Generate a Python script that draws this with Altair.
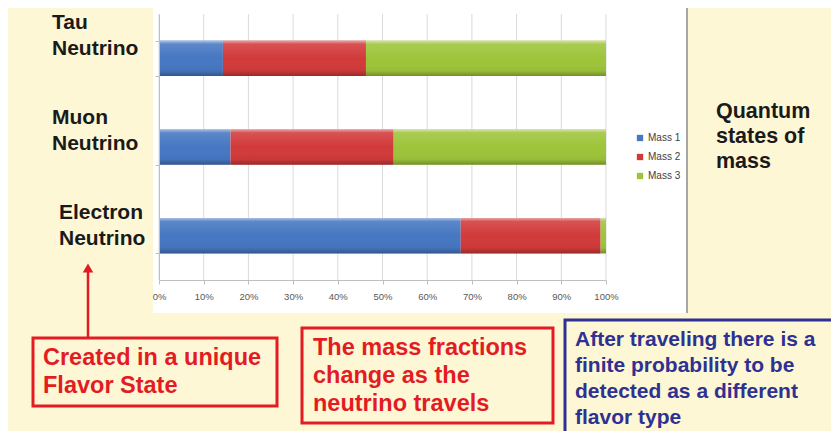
import altair as alt
import pandas as pd

# ---- data ----
neutrinos = ["Tau Neutrino", "Muon Neutrino", "Electron Neutrino"]
masses = ["Mass 1", "Mass 2", "Mass 3"]
mass1 = [0.143, 0.160, 0.675]
mass2 = [0.320, 0.365, 0.313]
mass3 = [0.537, 0.475, 0.012]
tick_values = [0, 0.1, 0.2, 0.3, 0.4, 0.5, 0.6, 0.7, 0.8, 0.9, 1.0]
side_title = ["Quantum", "states of", "mass"]
note1 = ["Created in a unique", "Flavor State"]
note2 = ["The mass fractions", "change as the", "neutrino travels"]
note3 = ["After traveling there is a", "finite probability to be",
         "detected as a different", "flavor type"]

mass_colors = ["#4677c2", "#d23a3a", "#9ec43a"]
RED = "#e31b23"
NAVY = "#2e3192"
CREAM = "#fdf7d5"
FONT = "Liberation Sans"

rows = []
for i, n in enumerate(neutrinos):
    for j, (m, vals) in enumerate(zip(masses, [mass1, mass2, mass3])):
        rows.append({"neutrino": n, "mass": m, "frac": vals[i], "order": j})
df = pd.DataFrame(rows)
one = pd.DataFrame({"k": [0]})

W, H = 447, 266
x_scale = alt.Scale(domain=[0, 1], nice=False)
x_axis = alt.Axis(format="%", values=tick_values, grid=False,
                  labelFont=FONT, labelFontSize=9.5, labelColor="#595959",
                  domainColor="#bfbfbf", tickColor="#bfbfbf", tickSize=4,
                  labelPadding=7, labelFlush=False, labelOverlap=False,
                  zindex=1)
y_enc = alt.Y("neutrino:N", sort=neutrinos, title=None,
              scale=alt.Scale(paddingInner=0.6, paddingOuter=0.3),
              axis=alt.Axis(labels=False, domainColor="#bfbfbf", tickColor="#bfbfbf",
                            tickBand="extent", tickSize=4, zindex=1))

panel = alt.Chart(one).mark_rect(color="white").encode(
    x=alt.value(-6), x2=alt.value(528), y=alt.value(-10), y2=alt.value(299))
panel_edge = alt.Chart(one).mark_rule(color="#a6a6a6", strokeWidth=2).encode(
    x=alt.value(528), y=alt.value(-10), y2=alt.value(299))

grid = alt.Chart(pd.DataFrame({"t": tick_values})).mark_rule(
    color="#d9d9d9", strokeWidth=1).encode(
    x=alt.X("t:Q", scale=x_scale, axis=x_axis, title=None),
    y=alt.value(0), y2=alt.value(H))

bars = alt.Chart(df).mark_bar(strokeWidth=0).encode(
    x=alt.X("frac:Q", stack="zero", scale=x_scale, title=None, axis=x_axis),
    y=y_enc,
    color=alt.Color("mass:N", scale=alt.Scale(domain=masses, range=mass_colors),
                    legend=alt.Legend(title=None, orient="none", legendX=476, legendY=119,
                                      symbolType="square", symbolSize=40,
                                      symbolStrokeWidth=0, labelOffset=3,
                                      labelFont=FONT, labelFontSize=10,
                                      labelColor="#404040", rowPadding=9,
                                      padding=0, zindex=1)),
    order=alt.Order("order:Q"),
)

gloss = alt.Chart(df).mark_bar(
    strokeWidth=0,
    color=alt.Gradient(
        gradient="linear", x1=0, y1=0, x2=0, y2=1,
        stops=[alt.GradientStop(offset=0, color="rgba(255,255,255,0.55)"),
               alt.GradientStop(offset=0.1, color="rgba(255,255,255,0.12)"),
               alt.GradientStop(offset=0.5, color="rgba(255,255,255,0)"),
               alt.GradientStop(offset=0.85, color="rgba(0,0,0,0.04)"),
               alt.GradientStop(offset=1, color="rgba(0,0,0,0.28)")]),
).encode(
    x=alt.X("frac:Q", stack="zero", scale=x_scale, title=None, axis=x_axis),
    y=y_enc,
    detail="mass:N",
    order=alt.Order("order:Q"),
)


def label(lines, x, y, size, color, lh):
    return alt.Chart(one).mark_text(
        text=lines, align="left", baseline="alphabetic", font=FONT,
        fontWeight="bold", fontSize=size, color=color, lineHeight=lh,
    ).encode(x=alt.value(x), y=alt.value(y))


def box(x1, x2, y1, y2, color):
    return alt.Chart(one).mark_rect(fillOpacity=0, stroke=color, strokeWidth=3).encode(
        x=alt.value(x1), x2=alt.value(x2), y=alt.value(y1), y2=alt.value(y2))


cat_positions = [(-107, 15), (-107, 110), (-100, 205)]
cat_labels = [label(n.split(" "), px, py, 21, "#1a1a1a", 26)
              for n, (px, py) in zip(neutrinos, cat_positions)]

arrow_shaft = alt.Chart(one).mark_rule(color=RED, strokeWidth=2.5).encode(
    x=alt.value(-71), y=alt.value(256), y2=alt.value(324))
arrow_head = alt.Chart(one).mark_point(shape="triangle-up", filled=True, size=110,
                                       color=RED, opacity=1).encode(
    x=alt.value(-71), y=alt.value(254))

chart = alt.layer(
    panel, panel_edge, grid, bars, gloss,
    *cat_labels,
    label(side_title, 557, 104, 21.5, "#1a1a1a", 25),
    box(-126, 118, 324, 392, RED),
    label(note1, -116, 351, 23.5, RED, 28),
    box(143, 394, 314, 409, RED),
    label(note2, 154, 341, 23.5, RED, 28),
    box(406, 678, 306, 422, NAVY),
    label(note3, 416, 332, 21, NAVY, 26),
    arrow_shaft, arrow_head,
).properties(
    width=W, height=H,
    autosize=alt.AutoSizeParams(type="none"),
    padding={"left": 151, "top": 6, "right": 225, "bottom": 151},
    background=CREAM,
).configure_view(strokeWidth=0)

chart.save("out.html", embed_options={"renderer": "svg", "actions": False})
